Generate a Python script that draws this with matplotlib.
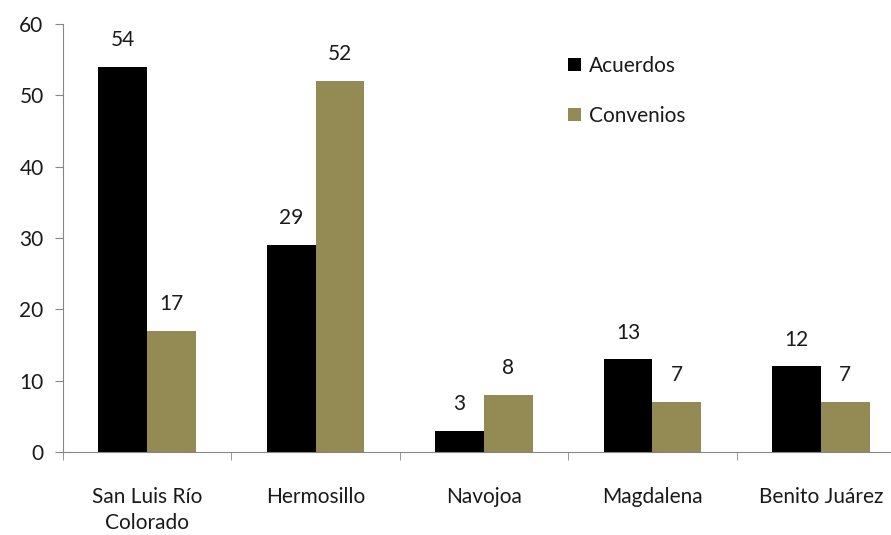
import matplotlib
matplotlib.use("Agg")
import matplotlib.pyplot as plt
import numpy as np

categories = ["San Luis Río\nColorado", "Hermosillo", "Navojoa", "Magdalena", "Benito Juárez"]
acuerdos = [54, 29, 3, 13, 12]
convenios = [17, 52, 8, 7, 7]
series_names = ["Acuerdos", "Convenios"]
yticks = [0, 10, 20, 30, 40, 50, 60]

plt.rcParams['font.family'] = ['Lato', 'DejaVu Sans']
FS = 15
TC = '#1a1a1a'

fig = plt.figure(figsize=(8.91, 5.35), dpi=100)
W, H = 891, 535
ax = fig.add_axes([63 / W, (H - 452) / H, (905 - 63) / W, (452 - 24) / H])

x = np.arange(len(categories))
bw = 0.29
colors = ["#000000", "#948A54"]
for vals, off, c, name in [(acuerdos, -bw / 2, colors[0], series_names[0]),
                           (convenios, bw / 2, colors[1], series_names[1])]:
    bars = ax.bar(x + off, vals, bw, color=c, label=name)
    for b, v in zip(bars, vals):
        ax.annotate(str(v), (b.get_x() + b.get_width() / 2, v), xytext=(0, 12),
                    textcoords="offset points", ha="center", va="bottom", fontsize=FS, color=TC)

ax.set_xlim(-0.5, len(categories) - 0.5)
ax.set_ylim(0, 60)
ax.set_yticks(yticks)
ax.set_yticklabels([str(t) for t in yticks], fontsize=FS, color=TC)
ax.set_xticks(x)
ax.set_xticklabels(categories, fontsize=FS, linespacing=1.4, color=TC)
ax.tick_params(axis='x', length=0, pad=25)
ax.set_xticks(np.arange(len(categories) + 1) - 0.5, minor=True)
ax.tick_params(axis='x', which='minor', length=6, color='#868686')
ax.tick_params(axis='y', length=6, color='#868686', pad=8)

for s in ['top', 'right']:
    ax.spines[s].set_visible(False)
for s in ['left', 'bottom']:
    ax.spines[s].set_color('#868686')

leg = ax.legend(loc='upper left', bbox_to_anchor=(0.578, 0.97), frameon=False, fontsize=FS,
                handlelength=0.6, handleheight=0.6, handletextpad=0.4, labelspacing=1.45)
for t in leg.get_texts():
    t.set_color(TC)

fig.savefig("out.png", dpi=100)
